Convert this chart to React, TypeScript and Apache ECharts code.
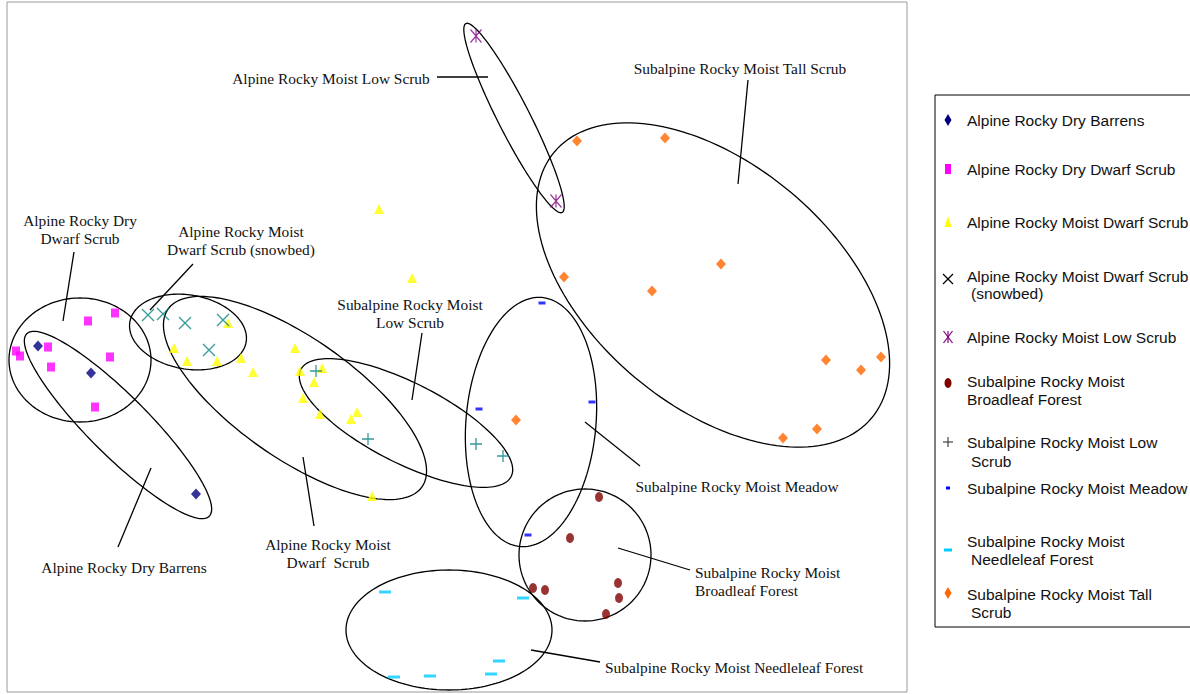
import { useEffect, useRef } from "react";
import * as echarts from "echarts";

// Ordination scores (axis 1, axis 2) for each plot, grouped by community type
const dryBarrens = [[31, 346], [84, 319], [189, 198]];
const dryDwarfScrub = [[9, 341], [13, 336], [41, 345], [81, 371], [108, 379], [103, 335], [44, 325], [88, 285]];
const moistDwarfScrub = [
  [221, 369], [167, 344], [180, 331], [210, 331], [234, 334], [246, 320], [288, 344], [293, 321],
  [307, 310], [315, 324], [296, 294], [313, 278], [344, 273], [350, 280], [365, 196], [372, 483], [405, 414],
];
const snowbed = [[141, 377], [156, 378], [178, 369], [216, 372], [202, 342]];
const moistLowScrub = [[469, 656], [549, 491]];
const broadleafForest = [[592, 195], [563, 154], [526, 104], [538, 102], [611, 109], [612, 94], [599, 78]];
const subLowScrub = [[309, 321], [361, 253], [469, 248], [496, 236]];
const meadow = [[535, 389], [472, 283], [585, 290], [521, 157]];
const needleleafForest = [[378, 100], [516, 94], [492, 31], [484, 18], [423, 16], [387, 15]];
const tallScrub = [
  [509, 272], [570, 551], [658, 554], [557, 415], [714, 428], [645, 401],
  [819, 332], [854, 322], [874, 335], [810, 263], [776, 254],
];

const groupNames = [
  "Alpine Rocky Dry Barrens",
  "Alpine Rocky Dry Dwarf Scrub",
  "Alpine Rocky Moist Dwarf Scrub",
  "Alpine Rocky Moist Dwarf Scrub (snowbed)",
  "Alpine Rocky Moist Low Scrub",
  "Subalpine Rocky Moist Broadleaf Forest",
  "Subalpine Rocky Moist Low Scrub",
  "Subalpine Rocky Moist Meadow",
  "Subalpine Rocky Moist Needleleaf Forest",
  "Subalpine Rocky Moist Tall Scrub",
];
const groupData = [dryBarrens, dryDwarfScrub, moistDwarfScrub, snowbed, moistLowScrub, broadleafForest, subLowScrub, meadow, needleleafForest, tallScrub];

// Legend wording (line breaks as printed in the key)
const legendLines = [
  ["Alpine Rocky Dry Barrens"],
  ["Alpine Rocky Dry Dwarf Scrub"],
  ["Alpine Rocky Moist Dwarf Scrub"],
  ["Alpine Rocky Moist Dwarf Scrub", " (snowbed)"],
  ["Alpine Rocky Moist Low Scrub"],
  ["Subalpine Rocky Moist", "Broadleaf Forest"],
  ["Subalpine Rocky Moist Low", " Scrub"],
  ["Subalpine Rocky Moist Meadow"],
  ["Subalpine Rocky Moist", " Needleleaf Forest"],
  ["Subalpine Rocky Moist Tall", " Scrub"],
];

// Marker styling per group
const markerKind = ["diamond", "rect", "triangle", "cross", "asterisk", "oval", "plus", "dash", "longdash", "diamond"];
const markerColor = ["#000080", "#ff00ff", "#ffff00", "#008080", "#800080", "#800000", "#008080", "#0000ff", "#00ccff", "#ff6600"];
const legendColor = ["#000080", "#ff00ff", "#ffff00", "#000000", "#800080", "#800000", "#444444", "#0000ff", "#00ccff", "#ff6600"];

// Group envelopes: centre, semi-axes and rotation (degrees, counter-clockwise)
const envelopes = [
  { cx: 73, cy: 332, a: 71, b: 62, angle: 0 },
  { cx: 111, cy: 267, a: 129, b: 30, angle: -45 },
  { cx: 181, cy: 360, a: 59, b: 37, angle: -10 },
  { cx: 288, cy: 294, a: 155, b: 60, angle: -35 },
  { cx: 399, cy: 269, a: 118, b: 40, angle: -27 },
  { cx: 524, cy: 270, a: 125, b: 65, angle: 85 },
  { cx: 507, cy: 574, a: 106, b: 16, angle: -63 },
  { cx: 706, cy: 407, a: 207, b: 121, angle: -40 },
  { cx: 578, cy: 137, a: 66, b: 66, angle: 0 },
  { cx: 442, cy: 62, a: 103, b: 60, angle: 0 },
];

// Envelope labels with leader lines
const callouts = [
  { text: "Alpine Rocky Moist Low Scrub", tx: 324, ty: 614, align: "center", x1: 430, y1: 615, x2: 481, y2: 615 },
  { text: "Subalpine Rocky Moist Tall Scrub", tx: 733, ty: 624, align: "center", x1: 741, y1: 612, x2: 731, y2: 508 },
  { text: "Alpine Rocky Dry\nDwarf Scrub", tx: 73, ty: 463, align: "center", x1: 67, y1: 440, x2: 56, y2: 371 },
  { text: "Alpine Rocky Moist\nDwarf Scrub (snowbed)", tx: 234, ty: 452, align: "center", x1: 186, y1: 428, x2: 143, y2: 382 },
  { text: "Subalpine Rocky Moist\nLow Scrub", tx: 403, ty: 379, align: "center", x1: 415, y1: 359, x2: 405, y2: 292 },
  { text: "Alpine Rocky Dry Barrens", tx: 117, ty: 125, align: "center", x1: 111, y1: 145, x2: 144, y2: 224 },
  { text: "Alpine Rocky Moist\nDwarf  Scrub", tx: 321, ty: 139, align: "center", x1: 307, y1: 166, x2: 296, y2: 235 },
  { text: "Subalpine Rocky Moist Meadow", tx: 730, ty: 206, align: "center", x1: 578, y1: 270, x2: 633, y2: 226 },
  { text: "Subalpine Rocky Moist\nBroadleaf Forest", tx: 688, ty: 111, align: "left", x1: 611, y1: 144, x2: 683, y2: 122 },
  { text: "Subalpine Rocky Moist Needleleaf Forest", tx: 598, ty: 25, align: "left", x1: 524, y1: 42, x2: 593, y2: 30 },
];

const SERIF = '"Liberation Serif", "Times New Roman", serif';
const SANS = '"Liberation Sans", Arial, sans-serif';

function scatterSymbol(kind: string): { symbol: string; size: number | number[]; stroke: boolean } {
  switch (kind) {
    case "diamond": return { symbol: "diamond", size: [10, 11], stroke: false };
    case "rect": return { symbol: "rect", size: [8, 9], stroke: false };
    case "triangle": return { symbol: "triangle", size: [10, 10], stroke: false };
    case "cross": return { symbol: "path://M0,0L10,10M10,0L0,10", size: [12, 12], stroke: true };
    case "asterisk": return { symbol: "path://M0,0L10,12M10,0L0,12M5,0L5,12", size: [11, 13], stroke: true };
    case "oval": return { symbol: "circle", size: [8, 10], stroke: false };
    case "plus": return { symbol: "path://M5,0L5,10M0,5L10,5", size: [12, 12], stroke: true };
    case "dash": return { symbol: "rect", size: [7, 3], stroke: false };
    default: return { symbol: "rect", size: [12, 3], stroke: false };
  }
}

function legendSymbol(kind: string, x: number, y: number, color: string): any[] {
  const line = (x1: number, y1: number, x2: number, y2: number) => ({
    type: "line", shape: { x1, y1, x2, y2 }, style: { stroke: color, lineWidth: 1.2 },
  });
  switch (kind) {
    case "diamond":
      return [{ type: "polygon", shape: { points: [[x, y - 6], [x + 3.5, y], [x, y + 6], [x - 3.5, y]] }, style: { fill: color } }];
    case "rect":
      return [{ type: "rect", shape: { x: x - 3, y: y - 5, width: 6, height: 10 }, style: { fill: color } }];
    case "triangle":
      return [{ type: "polygon", shape: { points: [[x, y - 6], [x + 3.5, y + 5], [x - 3.5, y + 5]] }, style: { fill: color } }];
    case "cross":
      return [line(x - 5, y - 5, x + 5, y + 5), line(x + 5, y - 5, x - 5, y + 5)];
    case "asterisk":
      return [line(x - 4.5, y - 6, x + 4.5, y + 6), line(x + 4.5, y - 6, x - 4.5, y + 6), line(x, y - 6, x, y + 6)];
    case "oval":
      return [{ type: "ellipse", shape: { cx: x, cy: y, rx: 3.5, ry: 5 }, style: { fill: color } }];
    case "plus":
      return [line(x - 5, y, x + 5, y), line(x, y - 5, x, y + 5)];
    case "dash":
      return [{ type: "rect", shape: { x: x - 2, y: y - 1.5, width: 4, height: 3 }, style: { fill: color } }];
    default:
      return [{ type: "rect", shape: { x: x - 4, y: y - 1.5, width: 8, height: 3 }, style: { fill: color } }];
  }
}

// Key layout: symbol row and text rows for each entry
const legendSymbolY = [120, 169, 222, 279, 337, 383, 442, 488, 550, 593];
const legendTextY = [[120], [169], [222], [276, 293], [337], [381, 399], [442, 461], [488], [541, 559], [594, 612]];

export default function App() {
  const ref = useRef<HTMLDivElement>(null);

  useEffect(() => {
    if (!ref.current) return;
    const chart = echarts.init(ref.current, undefined, { renderer: "svg" });

    const pointSeries = groupNames.map((name, i) => {
      const s = scatterSymbol(markerKind[i]);
      return {
        name,
        type: "scatter",
        data: groupData[i],
        symbol: s.symbol,
        symbolSize: s.size,
        z: 3,
        itemStyle: s.stroke
          ? { color: "rgba(0,0,0,0)", borderColor: markerColor[i], borderWidth: 1.3 }
          : { color: markerColor[i] },
      };
    });

    const envelopeSeries = {
      type: "custom",
      name: "envelopes",
      z: 2,
      clip: false,
      silent: true,
      data: envelopes.map((e) => [e.cx, e.cy]),
      renderItem: (params: any, api: any) => {
        const e = envelopes[params.dataIndex];
        const th = (e.angle * Math.PI) / 180;
        const pts: number[][] = [];
        const n = 160;
        for (let k = 0; k < n; k++) {
          const t = (k / n) * Math.PI * 2;
          const ux = e.a * Math.cos(t);
          const uy = e.b * Math.sin(t);
          pts.push(api.coord([e.cx + ux * Math.cos(th) - uy * Math.sin(th), e.cy + ux * Math.sin(th) + uy * Math.cos(th)]));
        }
        return { type: "polygon", shape: { points: pts }, style: { fill: "none", stroke: "#000", lineWidth: 1.3 } };
      },
    };

    const calloutSeries = {
      type: "custom",
      name: "callouts",
      z: 4,
      clip: false,
      silent: true,
      data: callouts.map((c) => [c.tx, c.ty]),
      renderItem: (params: any, api: any) => {
        const c = callouts[params.dataIndex];
        const p1 = api.coord([c.x1, c.y1]);
        const p2 = api.coord([c.x2, c.y2]);
        const pt = api.coord([c.tx, c.ty]);
        return {
          type: "group",
          children: [
            { type: "line", shape: { x1: p1[0], y1: p1[1], x2: p2[0], y2: p2[1] }, style: { stroke: "#000", lineWidth: 1.3 } },
            {
              type: "text",
              x: pt[0],
              y: pt[1],
              style: {
                text: c.text,
                fontFamily: SERIF,
                fontSize: 15.4,
                fill: "#111",
                align: c.align,
                verticalAlign: "middle",
                lineHeight: 18,
              },
            },
          ],
        };
      },
    };

    const legendElements: any[] = [
      { type: "rect", shape: { x: 935, y: 95, width: 270, height: 532 }, style: { fill: "#fff", stroke: "#000", lineWidth: 1 } },
    ];
    groupNames.forEach((_, i) => {
      legendElements.push(...legendSymbol(markerKind[i], 948, legendSymbolY[i], legendColor[i]));
      legendLines[i].forEach((txt, j) => {
        const indent = txt.startsWith(" ") ? 4 : 0;
        legendElements.push({
          type: "text",
          x: 967 + indent,
          y: legendTextY[i][j],
          style: { text: txt.trim(), fontFamily: SANS, fontSize: 15.5, fill: "#111", align: "left", verticalAlign: "middle" },
        });
      });
    });

    chart.setOption({
      animation: false,
      backgroundColor: "#fff",
      grid: { left: 7, top: 2, width: 900, height: 690, show: true, borderColor: "#9a9a9a", borderWidth: 1, backgroundColor: "#fff" },
      xAxis: { type: "value", min: 0, max: 900, show: false },
      yAxis: { type: "value", min: 0, max: 690, show: false },
      series: [envelopeSeries, ...pointSeries, calloutSeries],
      graphic: [{ type: "group", children: legendElements }],
    });

    return () => chart.dispose();
  }, []);

  return <div ref={ref} style={{ position: "fixed", left: 0, top: 0, width: 1190, height: 694 }} />;
}
